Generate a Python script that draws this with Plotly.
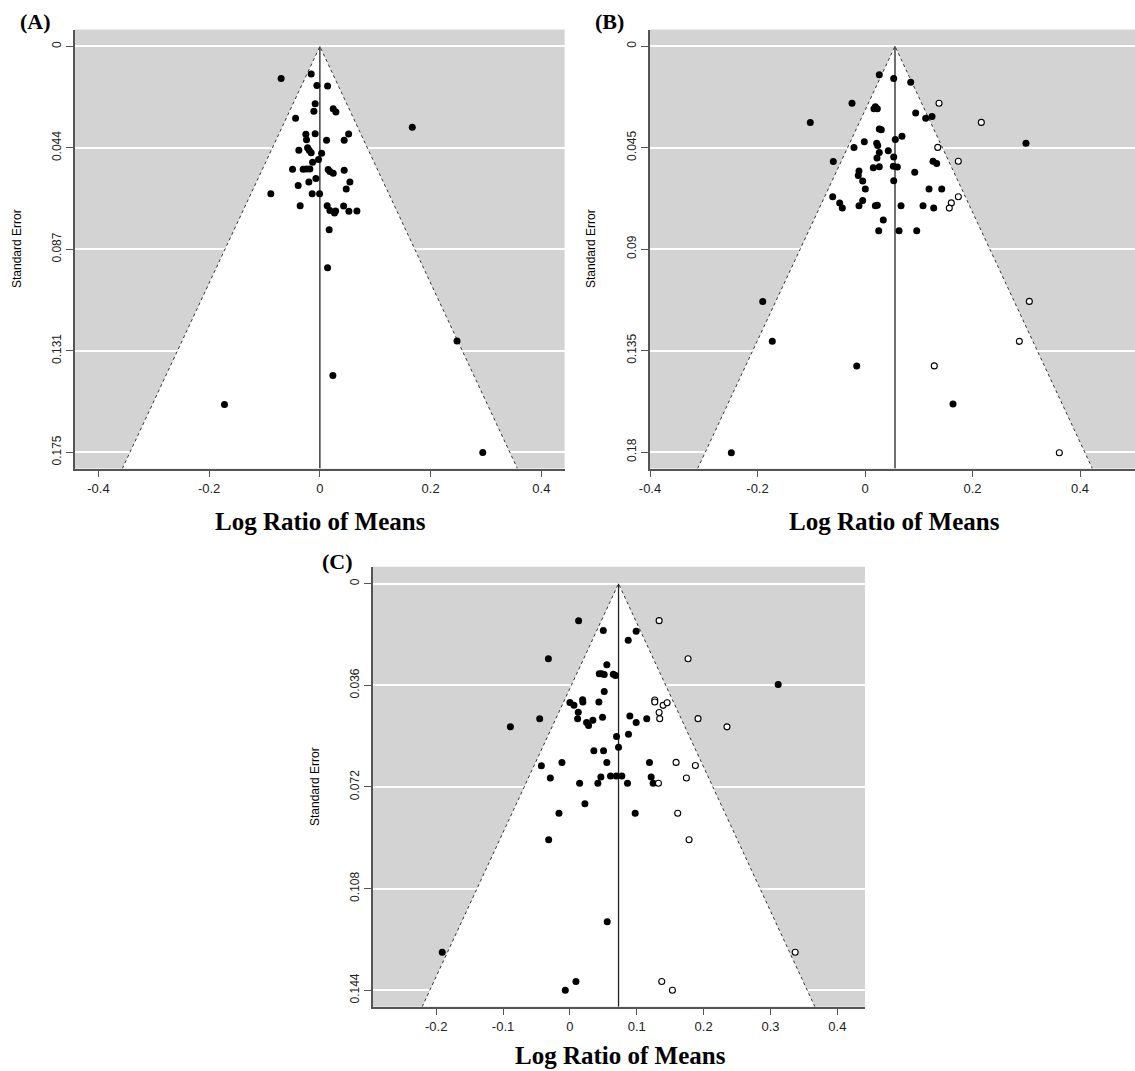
import plotly.graph_objects as go

# ---------------- DATA ----------------
# Panel A (observed studies only)
a_effect = [-0.070, -0.0157, -0.0054, 0.0139, -0.0085, -0.0108, 0.0241, 0.0289, -0.0439, 0.1669,
            -0.0253, -0.0241, -0.0085, 0.0121, 0.0519, 0.0439, -0.0380, -0.0222, -0.0193, -0.0157,
            0.0031, -0.0024, -0.0132, -0.0494, -0.0302, -0.0241, -0.0181, 0.0150, 0.0181, 0.0241,
            0.0439, -0.0072, -0.0199, 0.0542, -0.0392, 0.0476, -0.0886, -0.0139, -0.0005, -0.0356,
            0.0132, 0.0181, 0.0284, 0.0264, 0.0429, 0.0524, 0.0669, 0.0168, 0.0139, -0.1723,
            0.0235, 0.2477, 0.2942]
a_se = [0.0138, 0.0119, 0.0168, 0.0171, 0.0247, 0.0280, 0.0269, 0.0283, 0.0310, 0.0348,
        0.0379, 0.0402, 0.0376, 0.0405, 0.0378, 0.0405, 0.0448, 0.0437, 0.0448, 0.0458,
        0.0461, 0.0488, 0.0499, 0.0530, 0.0530, 0.0529, 0.0529, 0.0531, 0.0539, 0.0547,
        0.0534, 0.0569, 0.0585, 0.0585, 0.0600, 0.0615, 0.0635, 0.0635, 0.0635, 0.0687,
        0.0687, 0.0707, 0.0710, 0.0718, 0.0688, 0.0711, 0.0710, 0.0790, 0.0954, 0.1544,
        0.1419, 0.1270, 0.1751]

# Panel B observed (filled) and imputed (open) studies
b_effect = [0.0266, 0.0534, 0.0850, -0.0242, 0.0192, 0.0229, 0.0167, -0.1018, 0.0943, 0.1129,
            0.1247, 0.0266, 0.0303, 0.0564, 0.0688, -0.0013, -0.0205, 0.0218, 0.0236, 0.0433,
            0.0266, 0.0534, 0.0223, -0.0590, 0.1265, 0.1334, 0.0154, 0.0266, 0.0527, 0.0601,
            0.0925, -0.0112, -0.0125, -0.0043, 0.0534, 0.0006, 0.1191, 0.1427, -0.0601, -0.0471,
            -0.0422, -0.0043, -0.0112, 0.0192, 0.0229, 0.0670, 0.1079, 0.1278, 0.0340, 0.0255,
            0.0633, 0.0962, 0.2995, -0.1903, -0.1725, -0.0154, 0.1637, -0.2487]
b_se = [0.0127, 0.0143, 0.0160, 0.0253, 0.0269, 0.0278, 0.0278, 0.0338, 0.0296, 0.0320,
        0.0312, 0.0367, 0.0371, 0.0414, 0.0399, 0.0424, 0.0449, 0.0431, 0.0440, 0.0464,
        0.0471, 0.0491, 0.0496, 0.0511, 0.0510, 0.0520, 0.0539, 0.0535, 0.0532, 0.0536,
        0.0559, 0.0554, 0.0573, 0.0598, 0.0597, 0.0633, 0.0633, 0.0633, 0.0668, 0.0695,
        0.0718, 0.0684, 0.0708, 0.0708, 0.0705, 0.0708, 0.0708, 0.0718, 0.0771, 0.0819,
        0.0819, 0.0819, 0.0430, 0.1132, 0.1309, 0.1418, 0.1587, 0.1803]
b_fill_effect = [0.1377, 0.2164, 0.1353, 0.1736, 0.1736, 0.1606, 0.1568, 0.3057, 0.2871, 0.1289, 0.3615]
b_fill_se = [0.0253, 0.0338, 0.0449, 0.0510, 0.0668, 0.0695, 0.0718, 0.1132, 0.1309, 0.1418, 0.1803]

# Panel C observed (filled) and imputed (open) studies
c_effect = [0.0130, 0.0499, 0.0991, 0.0872, -0.0322, 0.0552, 0.0439, 0.0473, 0.0513, 0.0648,
            0.0682, 0.0513, 0.0000, 0.0060, 0.0190, 0.0194, 0.0433, 0.0125, 0.0115, 0.0488,
            -0.0452, -0.0890, 0.0249, 0.0279, 0.0343, 0.0896, 0.0991, 0.1149, 0.0697, 0.0876,
            0.0727, 0.0358, 0.0503, -0.0427, -0.0119, 0.0552, 0.1190, -0.0293, 0.0463, 0.0607,
            0.0693, 0.0776, 0.1215, 0.0145, 0.0418, 0.0861, 0.1245, 0.0224, -0.0164, 0.0976,
            -0.0318, 0.3115, 0.0558, -0.1910, 0.0090, -0.0069]
c_se = [0.0131, 0.0166, 0.0169, 0.0200, 0.0266, 0.0287, 0.0319, 0.0319, 0.0322, 0.0321,
        0.0325, 0.0382, 0.0421, 0.0431, 0.0411, 0.0419, 0.0419, 0.0455, 0.0478, 0.0473,
        0.0478, 0.0507, 0.0492, 0.0502, 0.0484, 0.0469, 0.0492, 0.0478, 0.0541, 0.0533,
        0.0579, 0.0592, 0.0592, 0.0645, 0.0633, 0.0633, 0.0633, 0.0688, 0.0685, 0.0681,
        0.0681, 0.0681, 0.0685, 0.0707, 0.0707, 0.0707, 0.0707, 0.0779, 0.0813, 0.0813,
        0.0907, 0.0357, 0.1197, 0.1305, 0.1409, 0.1440]
c_fill_effect = [0.1334, 0.1767, 0.1269, 0.1269, 0.1394, 0.1454, 0.1334, 0.1343, 0.1916, 0.2349,
                 0.1588, 0.1876, 0.1742, 0.1324, 0.1612, 0.1782, 0.3369, 0.1373, 0.1533]
c_fill_se = [0.0131, 0.0266, 0.0412, 0.0419, 0.0431, 0.0422, 0.0456, 0.0478, 0.0478, 0.0507,
             0.0633, 0.0644, 0.0688, 0.0707, 0.0813, 0.0907, 0.1305, 0.1409, 0.1440]

# pooled estimates (centre of funnels)
centers = {"A": 0.0, "B": 0.0558, "C": 0.0727}

# tick values / labels
a_yticks = [0, 0.04375, 0.0875, 0.13125, 0.175]
a_ylabels = ["0", "0.044", "0.087", "0.131", "0.175"]
b_yticks = [0, 0.045, 0.09, 0.135, 0.18]
b_ylabels = ["0", "0.045", "0.09", "0.135", "0.18"]
c_yticks = [0, 0.036, 0.072, 0.108, 0.144]
c_ylabels = ["0", "0.036", "0.072", "0.108", "0.144"]
ab_xticks = [-0.4, -0.2, 0, 0.2, 0.4]
ab_xlabels = ["-0.4", "-0.2", "0", "0.2", "0.4"]
c_xticks = [-0.2, -0.1, 0, 0.1, 0.2, 0.3, 0.4]
c_xlabels = ["-0.2", "-0.1", "0", "0.1", "0.2", "0.3", "0.4"]

# ---------------- LAYOUT GEOMETRY ----------------
W, H = 1135, 1071
panels = {
    "A": dict(xr=[-0.443, 0.442], yr=[0.1820, -0.0073], px=(74.6, 564.6), py=(29.5, 468.5)),
    "B": dict(xr=[-0.400, 0.5023], yr=[0.1873, -0.0074], px=(650, 1135), py=(29.5, 468.5)),
    "C": dict(xr=[-0.2945, 0.4413], yr=[0.1498, -0.0060], px=(373, 865), py=(566.7, 1006.7)),
}

fig = go.Figure()

def add_panel(key, idx, eff, se, fill_eff=None, fill_se=None):
    p = panels[key]
    xa = "x" if idx == 1 else f"x{idx}"
    ya = "y" if idx == 1 else f"y{idx}"
    c = centers[key]
    ymax = p["yr"][0]
    # white funnel
    fig.add_trace(go.Scatter(x=[c - 1.96 * ymax, c, c + 1.96 * ymax, c - 1.96 * ymax],
                             y=[ymax, 0, ymax, ymax], fill="toself", fillcolor="white",
                             mode="none", xaxis=xa, yaxis=ya, showlegend=False, hoverinfo="skip"))
    # dotted funnel edges
    fig.add_trace(go.Scatter(x=[c - 1.96 * ymax, c, c + 1.96 * ymax], y=[ymax, 0, ymax],
                             mode="lines", line=dict(color="#333", width=1, dash="dot"),
                             xaxis=xa, yaxis=ya, showlegend=False, hoverinfo="skip"))
    # vertical line at estimate
    fig.add_trace(go.Scatter(x=[c, c], y=[0, ymax], mode="lines",
                             line=dict(color="#222", width=1.3),
                             xaxis=xa, yaxis=ya, showlegend=False, hoverinfo="skip"))
    fig.add_trace(go.Scatter(x=eff, y=se, mode="markers",
                             marker=dict(color="black", size=7, line=dict(width=0)),
                             xaxis=xa, yaxis=ya, showlegend=False))
    if fill_eff is not None:
        fig.add_trace(go.Scatter(x=fill_eff, y=fill_se, mode="markers",
                                 marker=dict(color="white", size=6, line=dict(color="black", width=1.1)),
                                 xaxis=xa, yaxis=ya, showlegend=False))

add_panel("A", 1, a_effect, a_se)
add_panel("B", 2, b_effect, b_se, b_fill_effect, b_fill_se)
add_panel("C", 3, c_effect, c_se, c_fill_effect, c_fill_se)

axis_common = dict(showline=True, linecolor="#555", linewidth=1.5, ticks="outside",
                   ticklen=7, tickwidth=1.3, tickcolor="#555", zeroline=False, automargin=False,
                   tickfont=dict(family="Liberation Sans, Arial", size=13, color="#222"))

def dom_x(p):
    return [p["px"][0] / W, min(1.0, p["px"][1] / W)]

def dom_y(p):
    return [1 - p["py"][1] / H, 1 - p["py"][0] / H]

layout = dict(width=W, height=H, margin=dict(l=0, r=0, t=0, b=0, pad=0),
              paper_bgcolor="white", plot_bgcolor="#d3d3d3", showlegend=False)

specs = [("A", 1, ab_xticks, ab_xlabels, a_yticks, a_ylabels),
         ("B", 2, ab_xticks, ab_xlabels, b_yticks, b_ylabels),
         ("C", 3, c_xticks, c_xlabels, c_yticks, c_ylabels)]
for key, idx, xt, xl, yt, yl in specs:
    p = panels[key]
    xn = "xaxis" if idx == 1 else f"xaxis{idx}"
    yn = "yaxis" if idx == 1 else f"yaxis{idx}"
    ya = "y" if idx == 1 else f"y{idx}"
    xa = "x" if idx == 1 else f"x{idx}"
    layout[xn] = dict(axis_common, domain=dom_x(p), range=p["xr"], anchor=ya,
                      tickvals=xt, ticktext=xl, showgrid=False)
    layout[yn] = dict(axis_common, domain=dom_y(p), range=p["yr"], anchor=xa,
                      tickvals=yt, ticktext=yl, showgrid=True, gridcolor="white",
                      gridwidth=1.5, tickangle=-90,
                      tickfont=dict(family="Liberation Sans, Arial", size=12, color="#222"))

fig.update_layout(**layout)

# titles and panel labels as annotations (pixel positions converted to paper coords)
def ann(text, x_px, y_px, size, bold=False, serif=False, angle=0):
    fig.add_annotation(text=f"<b>{text}</b>" if bold else text,
                       x=x_px / W, y=1 - y_px / H, xref="paper", yref="paper",
                       showarrow=False, textangle=angle, xanchor="center", yanchor="middle",
                       font=dict(family="Liberation Serif, Times New Roman" if serif else "Liberation Sans, Arial",
                                 size=size, color="black"))

ann("(A)", 35, 21, 22, bold=True, serif=True)
ann("(B)", 609, 21, 22, bold=True, serif=True)
ann("(C)", 337, 561, 22, bold=True, serif=True)
ann("Log Ratio of Means", 320, 521, 25, bold=True, serif=True)
ann("Log Ratio of Means", 894, 521, 25, bold=True, serif=True)
ann("Log Ratio of Means", 620, 1055, 25, bold=True, serif=True)
ann("Standard Error", 17, 249, 12, angle=-90)
ann("Standard Error", 591, 249, 12, angle=-90)
ann("Standard Error", 315, 787, 12, angle=-90)

fig.write_html("out.html", config={"displayModeBar": False},
               post_script="document.body.style.margin='0';document.body.style.overflow='hidden';")
